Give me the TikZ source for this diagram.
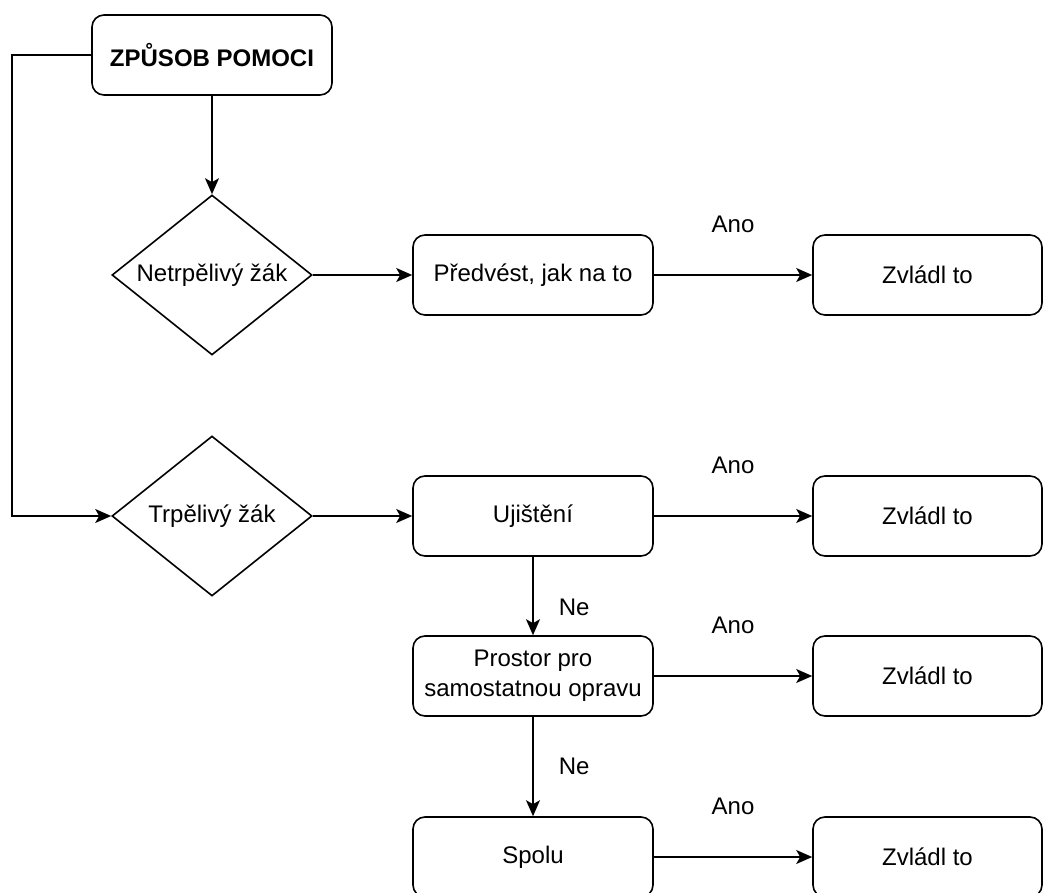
\documentclass[tikz,border=0pt]{standalone}
\usepackage{fontspec}
\setmainfont{Liberation Sans}
\usepackage{tikz}
\usetikzlibrary{arrows.meta}
\usetikzlibrary{shapes.geometric}

\begin{document}
\begin{tikzpicture}[x=1pt,y=-1pt]
\tikzset{>={Stealth[width=14pt,length=16pt,inset=4pt]}}
\tikzstyle{box} =[rectangle, draw, line width=1.6pt, rounded corners=12pt, minimum width=240pt, minimum height=80pt, align=center, font=\fontsize{24}{30}\selectfont]
\tikzstyle{done} =[box, minimum width=229pt]
\tikzstyle{choice} =[diamond, draw, line width=1.6pt, aspect=1.25, inner sep=0pt, minimum width=200pt, minimum height=160pt, font=\fontsize{24}{30}\selectfont]
\tikzstyle{edgelabel} =[inner sep=0pt, font=\fontsize{24}{30}\selectfont]
\tikzstyle{link} =[->, line width=1.6pt]

\useasboundingbox (0,0) rectangle (1044,893);

\node[box,font=\fontsize{24}{30}\selectfont\bfseries](pomoc) at (212,55){ZPŮSOB POMOCI};

\node[choice](netrp) at (212,275){Netrpělivý žák};
\node[choice](trp) at (212,516){Trpělivý žák};

\node[box](predvest) at (533,275){Předvést, jak na to};
\node[box](ujisteni) at (533,516){Ujištění};
\node[box](prostor) at (533,676){Prostor pro\\samostatnou opravu};
\node[box](spolu) at (533,857){Spolu};

\node[done](zvl1) at (927.5,275){Zvládl to};
\node[done](zvl2) at (927.5,516){Zvládl to};
\node[done](zvl3) at (927.5,676){Zvládl to};
\node[done](zvl4) at (927.5,857){Zvládl to};

\coordinate (bend) at (12,300);

\draw [link] (pomoc) to (netrp);
\draw [link] (pomoc.west) -| (bend) |- (trp.west);
\draw [link] (netrp) to (predvest);
\draw [link] (trp) to (ujisteni);

\draw [link] (predvest) -- node[edgelabel,above=41pt]{Ano} (zvl1);
\draw [link] (ujisteni) -- node[edgelabel,above=41pt]{Ano} (zvl2);
\draw [link] (prostor) -- node[edgelabel,above=41pt]{Ano} (zvl3);
\draw [link] (spolu) -- node[edgelabel,above=41pt]{Ano} (zvl4);

\draw [link] (ujisteni) -- node[edgelabel,pos=0.64,right=25pt]{Ne} (prostor);
\draw [link] (prostor) -- node[edgelabel,pos=0.5,right=25pt]{Ne} (spolu);
\end{tikzpicture}
\end{document}
